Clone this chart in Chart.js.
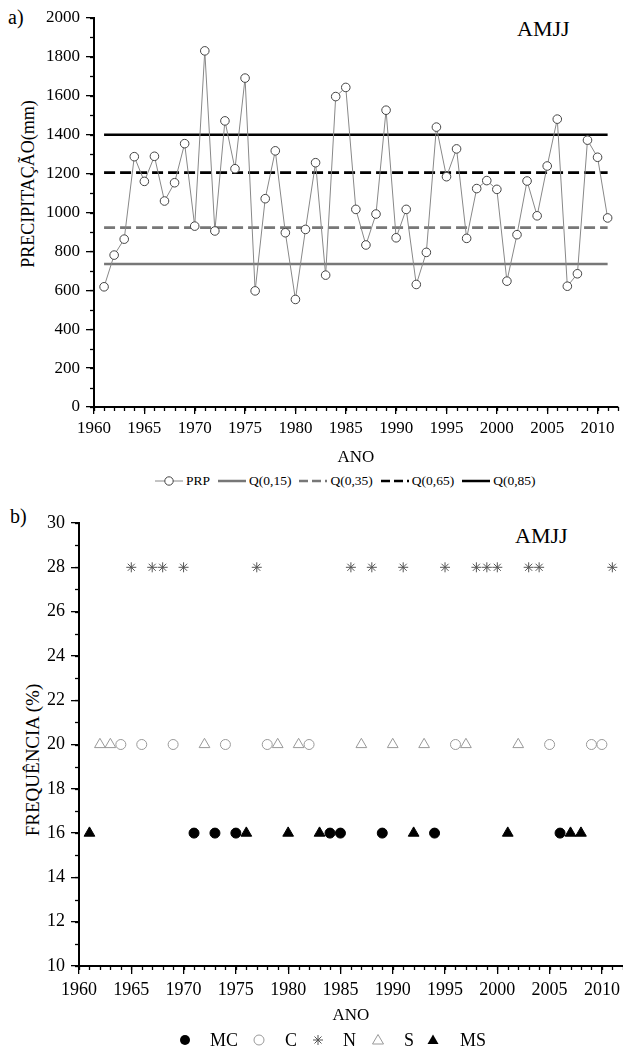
<!DOCTYPE html>
<html lang="pt">
<head>
<meta charset="UTF-8">
<title>AMJJ - precipitação e frequência</title>
<script src="https://cdn.jsdelivr.net/npm/chart.js"></script>
<style>
    body {
        margin: 0;
        width: 623px;
        height: 1048px;
        overflow: hidden;
        position: relative;
        background: #fff;
        font-family: "Liberation Serif", "Times New Roman", serif;
        color: #000
    }
    .box {position: absolute; left: 0;}
    .txt {position: absolute; white-space: nowrap; line-height: 1;}
    .ytitle {
        position: absolute;
        white-space: nowrap;
        line-height: 1;
        transform: translate(-50%, -50%) rotate(-90deg);
    }
    #legTop {
        position: absolute;
        left: 155px;
        top: 473px;
        display: flex;
        align-items: center;
        font-size: 13.5px;
        gap: 8px
    }
    #legTop span {display: flex; align-items: center; gap: 3px;}
    .lb {position: absolute; font-size: 18px; line-height: 1; top: 1031px;}
    .lm {position: absolute; top: 1033px;}
</style>
</head>
<body>
    <div class="txt" style="left:8px;top:7px;font-size:20px">a)</div>
    <div class="txt" style="left:517px;top:18px;font-size:22px">AMJJ</div>
    <div class="ytitle" style="left:28px;top:184px;font-size:18px">PRECIPITAÇÃO(mm)</div>

    <div class="box" style="top:0;width:623px;height:470px"><canvas id="topChart"></canvas></div>

    <div id="legTop">
        <span><svg width="28" height="12"><line x1="0" y1="6" x2="28" y2="6" stroke="#888" stroke-width="1"/><circle cx="14" cy="6" r="4.2" fill="#fff" stroke="#444"/></svg>PRP</span>
        <span><svg width="28" height="12"><line x1="0" y1="6" x2="28" y2="6" stroke="#777" stroke-width="2.5"/></svg>Q(0,15)</span>
        <span><svg width="28" height="12"><line x1="0" y1="6" x2="28" y2="6" stroke="#777" stroke-width="2.5" stroke-dasharray="9 4"/></svg>Q(0,35)</span>
        <span><svg width="28" height="12"><line x1="0" y1="6" x2="28" y2="6" stroke="#000" stroke-width="2.5" stroke-dasharray="9 4"/></svg>Q(0,65)</span>
        <span><svg width="28" height="12"><line x1="0" y1="6" x2="28" y2="6" stroke="#000" stroke-width="2.5"/></svg>Q(0,85)</span>
    </div>

    <div class="txt" style="left:10px;top:506px;font-size:20px">b)</div>
    <div class="txt" style="left:515px;top:525px;font-size:22px">AMJJ</div>
    <div class="ytitle" style="left:32px;top:760px;font-size:19px">FREQUÊNCIA (%)</div>

    <div class="box" style="top:500px;width:630px;height:548px"><canvas id="freqChart"></canvas></div>

    <!-- bottom legend -->
    <svg class="lm" style="left:178px" width="14" height="14"><circle cx="7" cy="7" r="5" fill="#000"/></svg>
    <div class="lb" style="left:210px">MC</div>
    <svg class="lm" style="left:252px" width="14" height="14"><circle cx="7" cy="7" r="5" fill="none" stroke="#999"/></svg>
    <div class="lb" style="left:285px">C</div>
    <svg class="lm" style="left:311px" width="14" height="14"><g stroke="#555" stroke-width="1"><line x1="7" y1="2" x2="7" y2="12"/><line x1="2" y1="7" x2="12" y2="7"/><line x1="3.5" y1="3.5" x2="10.5" y2="10.5"/><line x1="3.5" y1="10.5" x2="10.5" y2="3.5"/></g></svg>
    <div class="lb" style="left:343px">N</div>
    <svg class="lm" style="left:371px" width="14" height="14"><polygon points="7,1.5 12.5,11 1.5,11" fill="none" stroke="#999"/></svg>
    <div class="lb" style="left:404px">S</div>
    <svg class="lm" style="left:426px" width="14" height="14"><polygon points="7,1.5 12.5,11 1.5,11" fill="#000"/></svg>
    <div class="lb" style="left:460px">MS</div>

    <script>
        // --- chart a) precipitation by year
        const years = [1961, 1962, 1963, 1964, 1965, 1966, 1967, 1968, 1969, 1970,
            1971, 1972, 1973, 1974, 1975, 1976, 1977, 1978, 1979, 1980,
            1981, 1982, 1983, 1984, 1985, 1986, 1987, 1988, 1989, 1990,
            1991, 1992, 1993, 1994, 1995, 1996, 1997, 1998, 1999, 2000,
            2001, 2002, 2003, 2004, 2005, 2006, 2007, 2008, 2009, 2010, 2011]
        const prp = [618, 781, 863, 1287, 1160, 1289, 1059, 1153, 1354, 930,
            1831, 905, 1471, 1225, 1691, 597, 1071, 1317, 896, 553,
            913, 1256, 678, 1596, 1643, 1016, 833, 992, 1526, 870,
            1016, 630, 795, 1439, 1184, 1327, 867, 1123, 1164, 1119,
            647, 886, 1162, 983, 1239, 1480, 621, 685, 1372, 1284, 972]
        const quantLabels = ['Q(0,15)', 'Q(0,35)', 'Q(0,65)', 'Q(0,85)']
        const quantValues = [735, 922, 1205, 1400]

        // --- chart b) class frequency, years of each class
        const classNames = ['MC', 'C', 'N', 'S', 'MS']
        const classFreq = [16, 20, 28, 20, 16]
        const mcYears = [1971, 1973, 1975, 1984, 1985, 1989, 1994, 2006]
        const cYears = [1964, 1966, 1969, 1974, 1978, 1982, 1996, 2005, 2009, 2010]
        const nYears = [1965, 1967, 1968, 1970, 1977, 1986, 1988, 1991, 1995, 1998, 1999, 2000, 2003, 2004, 2011]
        const sYears = [1962, 1963, 1972, 1979, 1981, 1987, 1990, 1993, 1997, 2002]
        const msYears = [1961, 1976, 1980, 1983, 1992, 2001, 2007, 2008]

        const serif = "'Liberation Serif', 'Times New Roman', serif"
        Chart.defaults.font.family = serif
        Chart.defaults.color = '#000'

        // short ticks between the labelled ones
        const minorTicks = {
            id: 'minorTicks',
            afterDraw(chart, args, opts) {
                let ctx = chart.ctx
                let x = chart.scales.x, y = chart.scales.y
                ctx.save()
                ctx.strokeStyle = '#000'
                ctx.lineWidth = 1.3
                for (let v = x.min; v <= x.max + 1e-6; v += opts.xStep) {
                    let px = Math.round(x.getPixelForValue(v)) + 0.5
                    ctx.beginPath(); ctx.moveTo(px, x.top); ctx.lineTo(px, x.top + opts.len); ctx.stroke()
                }
                for (let v = y.min; v <= y.max + 1e-6; v += opts.yStep) {
                    let py = Math.round(y.getPixelForValue(v)) + 0.5
                    ctx.beginPath(); ctx.moveTo(y.right, py); ctx.lineTo(y.right - opts.len, py); ctx.stroke()
                }
                ctx.restore()
            }
        }

        function axisX(fontSize, tickLen, pad, height, titlePad) {
            return {
                type: 'linear', min: 1960, max: 2012,
                ticks: {
                    stepSize: 5, includeBounds: false, autoSkip: false, maxRotation: 0,
                    padding: pad, font: {family: serif, size: fontSize},
                    callback: v => (v % 5 === 0 ? String(v) : '')
                },
                grid: {drawOnChartArea: false, color: '#000', lineWidth: 1.3, tickLength: tickLen},
                border: {color: '#000', width: 2},
                title: {display: true, text: 'ANO', font: {family: serif, size: 17}, padding: {top: 0, bottom: titlePad}},
                afterFit: s => { s.height = height }
            }
        }

        function axisY(min, max, step, fontSize, width) {
            return {
                min: min, max: max,
                ticks: {stepSize: step, padding: 6, font: {family: serif, size: fontSize}, callback: v => String(v)},
                grid: {drawOnChartArea: false, color: '#000', lineWidth: 1.3, tickLength: 8},
                border: {color: '#000', width: 2},
                afterFit: s => { s.width = width }
            }
        }

        // top chart
        let qStyles = [
            {color: '#777', dash: []},
            {color: '#777', dash: [11, 5]},
            {color: '#000', dash: [11, 5]},
            {color: '#000', dash: []}
        ]
        let topSets = [{
            label: 'PRP',
            data: years.map((yr, i) => ({x: yr, y: prp[i]})),
            borderColor: '#888',
            borderWidth: 1,
            pointRadius: 4.3,
            pointBackgroundColor: '#fff',
            pointBorderColor: '#444',
            pointBorderWidth: 1,
            tension: 0
        }]
        quantValues.forEach((q, i) => {
            topSets.push({
                label: quantLabels[i],
                data: [{x: years[0], y: q}, {x: years[years.length - 1], y: q}],
                borderColor: qStyles[i].color,
                borderDash: qStyles[i].dash,
                borderWidth: 2.6,
                pointRadius: 0
            })
        })

        new Chart(document.getElementById('topChart'), {
            type: 'line',
            data: {datasets: topSets},
            options: {
                responsive: true, maintainAspectRatio: false,
                animation: false, events: [],
                layout: {padding: {top: 18, right: 1, left: 0, bottom: 0}},
                plugins: {legend: {display: false}, tooltip: {enabled: false},
                    minorTicks: {xStep: 1, yStep: 100, len: 4}},
                scales: {
                    x: axisX(17, 7, 4, 63, 2),
                    y: axisY(0, 2000, 200, 17, 94)
                }
            },
            plugins: [minorTicks]
        })

        // bottom chart
        let classYears = [mcYears, cYears, nYears, sYears, msYears]
        let classStyle = [
            {shape: 'circle', r: 5, fill: '#000', line: '#000'},
            {shape: 'circle', r: 5, fill: 'rgba(0,0,0,0)', line: '#999'},
            {shape: 'star', r: 5, fill: 'rgba(0,0,0,0)', line: '#555'},
            {shape: 'triangle', r: 6.2, fill: 'rgba(0,0,0,0)', line: '#999'},
            {shape: 'triangle', r: 6.2, fill: '#000', line: '#000'}
        ]
        let freqSets = classNames.map((name, i) => ({
            label: name,
            data: classYears[i].map(yr => ({x: yr, y: classFreq[i]})),
            pointStyle: classStyle[i].shape,
            pointRadius: classStyle[i].r,
            pointBackgroundColor: classStyle[i].fill,
            pointBorderColor: classStyle[i].line,
            pointBorderWidth: 1
        }))

        new Chart(document.getElementById('freqChart'), {
            type: 'scatter',
            data: {datasets: freqSets},
            options: {
                responsive: true, maintainAspectRatio: false,
                animation: false, events: [],
                layout: {padding: {top: 23, right: 4, left: 0, bottom: 0}},
                plugins: {legend: {display: false}, tooltip: {enabled: false},
                    minorTicks: {xStep: 1, yStep: 1, len: 4}},
                scales: {
                    x: axisX(18, 8, 5, 82, 22),
                    y: axisY(10, 30, 2, 18, 79)
                }
            },
            plugins: [minorTicks]
        })
    </script>
</body>
</html>
